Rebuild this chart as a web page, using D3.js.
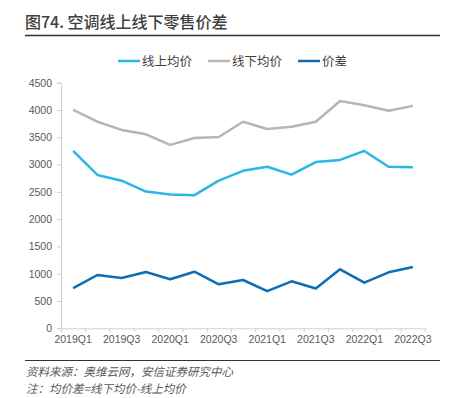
<!DOCTYPE html>
<html>
<head>
<meta charset="utf-8">
<script src="https://cdn.jsdelivr.net/npm/d3@7"></script>
<style>
  body { margin: 0; background: #fff; }
  svg { display: block; font-family: "Liberation Sans Narrow", "Liberation Sans", Arial, sans-serif; }
</style>
</head>
<body>
<svg id="chart" width="456" height="398"></svg>
<script>
// Chart data
const quarters = ['2019Q1', '2019Q2', '2019Q3', '2019Q4', '2020Q1', '2020Q2', '2020Q3', '2020Q4',
                  '2021Q1', '2021Q2', '2021Q3', '2021Q4', '2022Q1', '2022Q2', '2022Q3'];
const onlinePrice  = [3250, 2810, 2705, 2505, 2450, 2440, 2705, 2885, 2960, 2815, 3045, 3085, 3250, 2960, 2950];
const offlinePrice = [4000, 3785, 3635, 3555, 3360, 3487, 3505, 3785, 3652, 3694, 3785, 4165, 4088, 3987, 4075];
const priceGap     = [735, 977, 922, 1032, 898, 1037, 806, 885, 680, 861, 728, 1081, 836, 1026, 1123];
const yTicks = [0, 500, 1000, 1500, 2000, 2500, 3000, 3500, 4000, 4500];

const series = [
    { name: '线上均价', values: onlinePrice, color: '#2bb5e8' },
    { name: '线下均价', values: offlinePrice, color: '#bcb3b1' },
    { name: '价差', values: priceGap, color: '#0d6db5' }
];

const svg = d3.select('#chart');
const CJK = '"Noto Sans CJK SC", sans-serif';
const NUM = '"Liberation Sans Narrow", "Liberation Sans", Arial, sans-serif';

// Title and rules
svg.append('text')
    .attr('x', 25).attr('y', 28)
    .attr('font-family', CJK)
    .attr('font-size', 16)
    .attr('font-weight', 500)
    .attr('fill', '#404040')
    .text('图74. 空调线上线下零售价差');

svg.append('line')
    .attr('x1', 25).attr('x2', 440).attr('y1', 35.5).attr('y2', 35.5)
    .attr('stroke', '#333').attr('stroke-width', 1.5);

svg.append('line')
    .attr('x1', 25).attr('x2', 440).attr('y1', 360.5).attr('y2', 360.5)
    .attr('stroke', '#333').attr('stroke-width', 1.2);

// Scales
const plot = { left: 61, right: 425, top: 82.7, bottom: 328.3 };
const x = d3.scaleBand().domain(quarters).range([plot.left, plot.right]);
const y = d3.scaleLinear().domain([0, 4500]).range([plot.bottom, plot.top]);

// Y axis
const yAxis = svg.append('g')
    .attr('transform', `translate(${plot.left},0)`)
    .call(d3.axisLeft(y).tickValues(yTicks).tickFormat(d3.format('d')).tickSize(4).tickPadding(5));
yAxis.select('.domain').attr('stroke', '#d0d0d0');
yAxis.selectAll('.tick line').attr('stroke', '#d0d0d0');
yAxis.selectAll('.tick text')
    .attr('fill', '#595959').attr('font-size', 10.5)
    .attr('font-family', NUM);

// X axis: ticks at category boundaries, labels every other quarter
const xAxis = svg.append('g')
    .attr('transform', `translate(0,${plot.bottom})`);
xAxis.append('line')
    .attr('x1', plot.left).attr('x2', plot.right).attr('y1', 0.5).attr('y2', 0.5)
    .attr('stroke', '#d0d0d0');
xAxis.selectAll('.xtick')
    .data(quarters.concat(['end']))
    .enter().append('line')
    .attr('x1', (d, i) => (i < quarters.length ? x(d) : plot.right) + 0.5)
    .attr('x2', (d, i) => (i < quarters.length ? x(d) : plot.right) + 0.5)
    .attr('y1', 0).attr('y2', 4)
    .attr('stroke', '#d0d0d0');
xAxis.selectAll('.xlabel')
    .data(quarters.filter((d, i) => i % 2 === 0))
    .enter().append('text')
    .attr('x', d => x(d) + x.bandwidth() / 2)
    .attr('y', 15)
    .attr('text-anchor', 'middle')
    .attr('fill', '#595959')
    .attr('font-family', NUM)
    .attr('font-size', 10.5)
    .text(d => d);

// Lines
const line = d3.line()
    .x((d, i) => x(quarters[i]) + x.bandwidth() / 2)
    .y(d => y(d));

series.forEach(s => {
    svg.append('path')
        .datum(s.values)
        .attr('fill', 'none')
        .attr('stroke', s.color)
        .attr('stroke-width', 2.5)
        .attr('stroke-linejoin', 'round')
        .attr('d', line);
});

// Legend
const legendX = [118, 208, 298];
series.forEach((s, i) => {
    const g = svg.append('g').attr('transform', `translate(${legendX[i]},61)`);
    g.append('line')
        .attr('x1', 0).attr('x2', 22).attr('y1', 0).attr('y2', 0)
        .attr('stroke', s.color).attr('stroke-width', 2.5);
    g.append('text')
        .attr('x', 24).attr('y', 4.5)
        .attr('font-family', CJK)
        .attr('font-size', 12.5)
        .attr('fill', '#404040')
        .text(s.name);
});

// Footnotes
const notes = ['资料来源：奥维云网，安信证券研究中心', '注：均价差=线下均价-线上均价'];
notes.forEach((t, i) => {
    svg.append('text')
        .attr('x', 26).attr('y', 376 + i * 17)
        .attr('font-family', CJK)
        .attr('font-size', 11.5)
        .attr('font-style', 'italic')
        .attr('fill', '#595959')
        .text(t);
});
</script>
</body>
</html>
